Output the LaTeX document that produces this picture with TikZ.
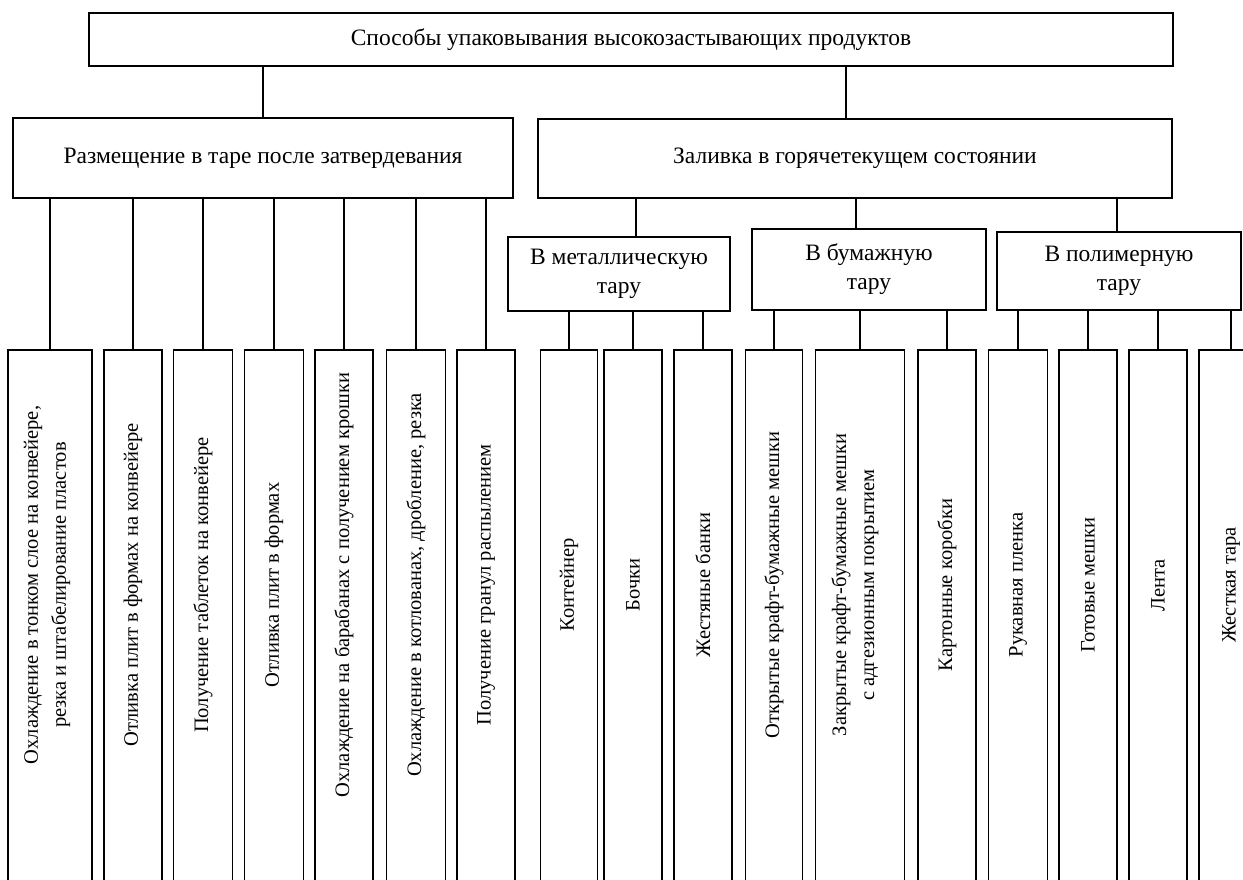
\documentclass[tikz,border=0pt]{standalone}
\usepackage{fontspec}
\setmainfont{Liberation Serif}
\begin{document}
\begin{tikzpicture}[x=1pt,y=-1pt,
  every node/.style={inner sep=0pt, outer sep=0pt},
  hbox/.style={draw, line width=1.6pt, rectangle, font=\fontsize{23.5}{29}\selectfont, align=center},
  leafbox/.style={draw, line width=1.6pt, rectangle, minimum height=550pt},
  leaftext/.style={rotate=90, font=\fontsize{20.5}{28}\selectfont, align=center},
  conn/.style={line width=1.6pt}]
\useasboundingbox (0,0) rectangle (1243,879);
\clip (0,0) rectangle (1243,879);
\fill[white] (0,0) rectangle (1243,879);

% header boxes
\node[hbox, minimum width=1084pt, minimum height=53pt] (top) at (631,39.5) {Способы упаковывания высокозастывающих продуктов};
\node[hbox, minimum width=500pt, minimum height=80pt] (razm) at (263,158) {Размещение в таре после затвердевания};
\node[hbox, minimum width=634pt, minimum height=79pt] (zal) at (855,158.5) {Заливка в горячетекущем состоянии};
\node[hbox, minimum width=222pt, minimum height=74pt] (metal) at (619,274) {В металлическую\\тару};
\node[hbox, minimum width=234pt, minimum height=81pt] (bum) at (869,269.5) {В бумажную\\тару};
\node[hbox, minimum width=244pt, minimum height=78pt] (poly) at (1119,271) {В полимерную\\тару};

% leaf boxes
\node[leafbox, minimum width=84pt] (l1) at (50,625) {};
\node[leafbox, minimum width=58pt] (l2) at (133,625) {};
\node[leafbox, minimum width=59pt] (l3) at (203,625) {};
\node[leafbox, minimum width=59pt] (l4) at (274,625) {};
\node[leafbox, minimum width=58pt] (l5) at (344,625) {};
\node[leafbox, minimum width=59pt] (l6) at (416,625) {};
\node[leafbox, minimum width=58pt] (l7) at (486,625) {};
\node[leafbox, minimum width=57pt] (l8) at (569,625) {};
\node[leafbox, minimum width=58pt] (l9) at (633,625) {};
\node[leafbox, minimum width=58pt] (l10) at (703,625) {};
\node[leafbox, minimum width=57pt] (l11) at (774,625) {};
\node[leafbox, minimum width=89pt] (l12) at (860,625) {};
\node[leafbox, minimum width=58pt] (l13) at (947,625) {};
\node[leafbox, minimum width=59pt] (l14) at (1018,625) {};
\node[leafbox, minimum width=58pt] (l15) at (1088,625) {};
\node[leafbox, minimum width=58pt] (l16) at (1158,625) {};
\node[leafbox, minimum width=64pt] (l17) at (1231,625) {};

% leaf texts
\node[leaftext] (t1) at (47,585) {Охлаждение в тонком слое на конвейере,\\резка и штабелирование пластов};
\node[leaftext] (t2) at (133,585) {Отливка плит в формах на конвейере};
\node[leaftext] (t3) at (203,585) {Получение таблеток на конвейере};
\node[leaftext] (t4) at (274,585) {Отливка плит в формах};
\node[leaftext] (t5) at (344,585) {Охлаждение на барабанах с получением крошки};
\node[leaftext] (t6) at (416,585) {Охлаждение в котлованах, дробление, резка};
\node[leaftext] (t7) at (486,585) {Получение гранул распылением};
\node[leaftext] (t8) at (569,585) {Контейнер};
\node[leaftext] (t9) at (633,585) {Бочки};
\node[leaftext] (t10) at (703,585) {Жестяные банки};
\node[leaftext] (t11) at (774,585) {Открытые крафт-бумажные мешки};
\node[leaftext] (t12) at (855,585) {Закрытые крафт-бумажные мешки\\с адгезионным покрытием};
\node[leaftext] (t13) at (947,585) {Картонные коробки};
\node[leaftext] (t14) at (1018,585) {Рукавная пленка};
\node[leaftext] (t15) at (1088,585) {Готовые мешки};
\node[leaftext] (t16) at (1158,585) {Лента};
\node[leaftext] (t17) at (1231,585) {Жесткая тара};

% connectors
\draw[conn] (razm.north) -- (razm.north |- top.south);
\draw[conn] ([xshift=-9pt]zal.north) -- ([xshift=-9pt]zal.north |- top.south);
\draw[conn] ([xshift=17pt]metal.north) -- ([xshift=17pt]metal.north |- zal.south);
\draw[conn] ([xshift=-13pt]bum.north) -- ([xshift=-13pt]bum.north |- zal.south);
\draw[conn] ([xshift=-2pt]poly.north) -- ([xshift=-2pt]poly.north |- zal.south);
\foreach \l in {l1,l2,l3,l4,l5,l6,l7}
  \draw[conn] (\l.north) -- (\l.north |- razm.south);
\foreach \l in {l8,l9,l10}
  \draw[conn] (\l.north) -- (\l.north |- metal.south);
\foreach \l in {l11,l12,l13}
  \draw[conn] (\l.north) -- (\l.north |- bum.south);
\foreach \l in {l14,l15,l16,l17}
  \draw[conn] (\l.north) -- (\l.north |- poly.south);
\end{tikzpicture}
\end{document}
